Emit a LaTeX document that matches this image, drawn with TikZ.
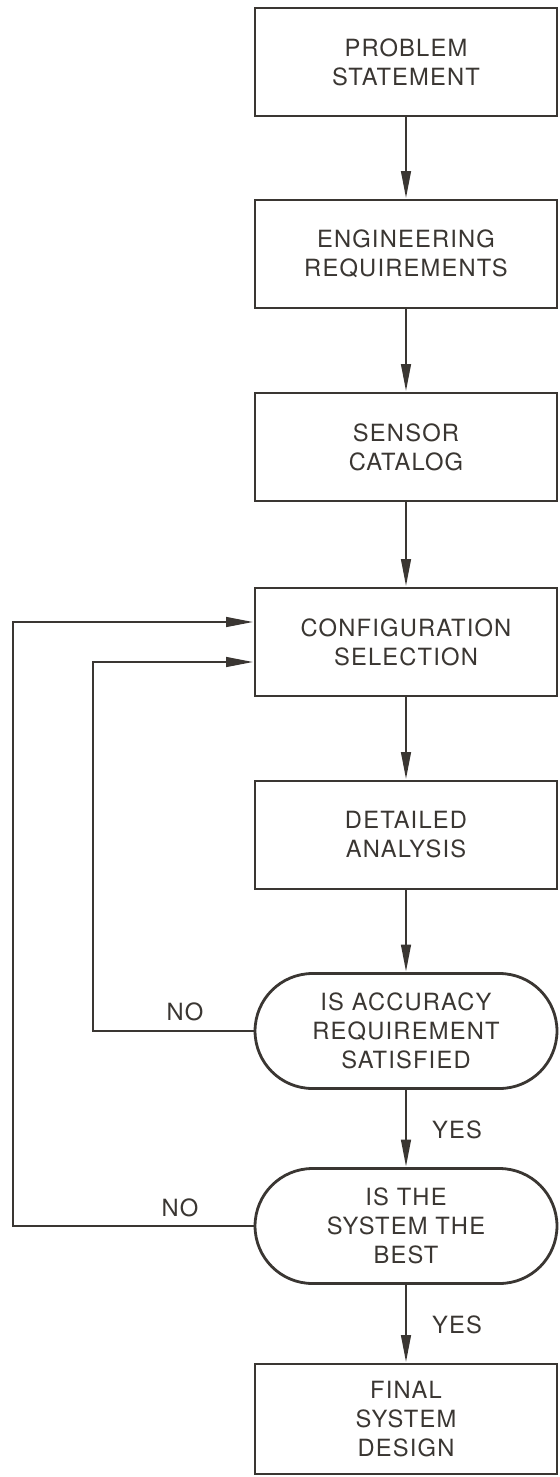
\documentclass[tikz,border=0pt]{standalone}
\usepackage{fontspec}
\setmainfont{TeX Gyre Heros}
\usepackage{xcolor}
\usepackage{tikz}
\usetikzlibrary{arrows.meta, positioning}
\definecolor{ink}{RGB}{58,54,50}

\begin{document}
\begin{tikzpicture}[x=0.02cm, y=-0.02cm, line width=1.6pt, ink,
    stagebox/.style={draw, rectangle, inner sep=0pt, align=center,
      minimum width=6.04cm, minimum height=2.16cm,
      font=\fontsize{13.5}{16.5}\selectfont\addfontfeatures{LetterSpace=5}},
    testbox/.style={stagebox, rounded corners=1.15cm, minimum height=2.3cm},
    flow/.style={-{Triangle[length=0.55cm, width=0.19cm]}},
    tag/.style={font=\fontsize{13.5}{16.5}\selectfont\addfontfeatures{LetterSpace=5}}]
  \useasboundingbox (0,0) rectangle (560,1477);

  \node[stagebox] (problem) at (406,62) {PROBLEM\\STATEMENT};
  \node[stagebox] (engreq) at (406,254) {ENGINEERING\\REQUIREMENTS};
  \node[stagebox] (catalog) at (406,447) {SENSOR\\CATALOG};
  \node[stagebox] (config) at (406,642) {CONFIGURATION\\SELECTION};
  \node[stagebox] (analysis) at (406,835) {DETAILED\\ANALYSIS};
  \node[testbox] (accuracy) at (406,1031) {IS ACCURACY\\REQUIREMENT\\SATISFIED};
  \node[testbox] (best) at (406,1226) {IS THE\\SYSTEM THE\\BEST};
  \node[stagebox, minimum height=2.2cm] (final) at (406,1419) {FINAL\\SYSTEM\\DESIGN};

  \draw[flow] (problem) -- (engreq);
  \draw[flow] (engreq) -- (catalog);
  \draw[flow] (catalog) -- (config);
  \draw[flow] (config) -- (analysis);
  \draw[flow] (analysis) -- (accuracy);
  \draw[flow] (accuracy) -- (best);
  \draw[flow] (best) -- (final);

  \node[tag] (yesacc) at (457,1130) {YES};
  \node[tag] (yesbest) at (457,1325) {YES};
  \node[tag] (noacc) at (185,1012) {NO};
  \node[tag] (nobest) at (180,1208) {NO};

  \coordinate (innerbend) at (93,662);
  \coordinate (outerbend) at (13,622);
  \draw[flow] (accuracy.west) -| (innerbend) -- (innerbend -| config.west);
  \draw[flow] (best.west) -| (outerbend) -- (outerbend -| config.west);
\end{tikzpicture}
\end{document}
